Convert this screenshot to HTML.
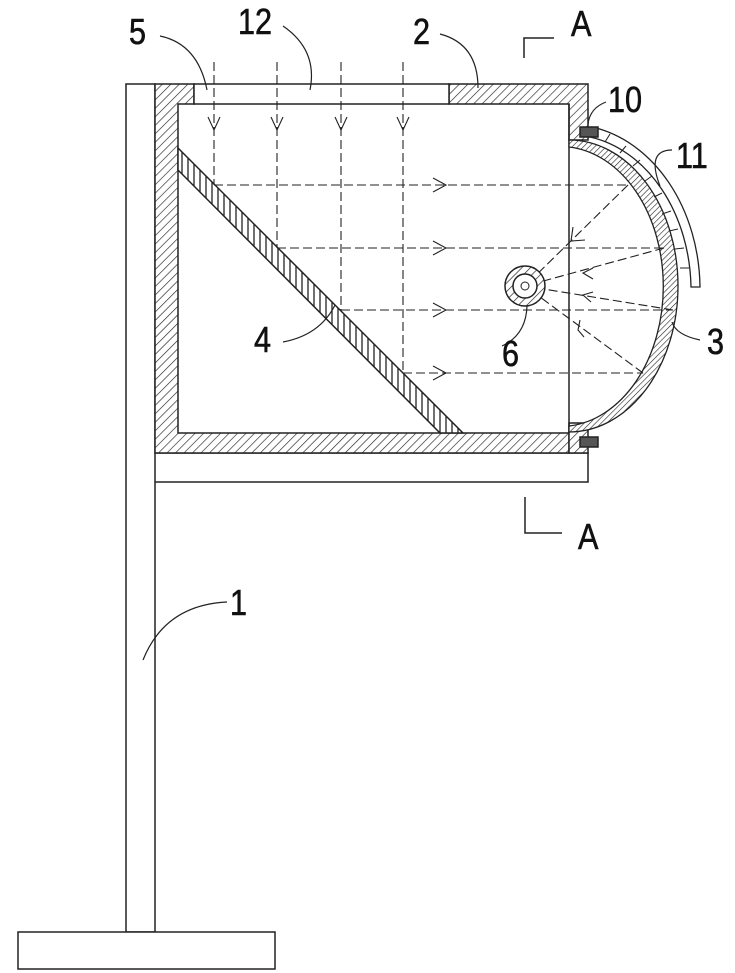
<!DOCTYPE html>
<html><head><meta charset="utf-8"><style>
html,body{margin:0;padding:0;background:#fff;}
svg{display:block;}
text{font-family:"Liberation Sans",sans-serif;font-size:36px;fill:#111;}
</style></head><body>
<svg width="735" height="973" viewBox="0 0 735 973" xmlns="http://www.w3.org/2000/svg">
<defs>
<pattern id="h" width="6" height="6" patternUnits="userSpaceOnUse" patternTransform="rotate(45)">
<rect width="6" height="6" fill="#fff"/><line x1="0" y1="0" x2="0" y2="6" stroke="#222" stroke-width="1.3"/></pattern>
<pattern id="h2" width="4" height="4" patternUnits="userSpaceOnUse" patternTransform="rotate(45)">
<rect width="4" height="4" fill="#fff"/><line x1="0" y1="0" x2="0" y2="4" stroke="#222" stroke-width="1.2"/></pattern>
<pattern id="v" width="6" height="6" patternUnits="userSpaceOnUse">
<rect width="6" height="6" fill="#fff"/><line x1="2" y1="0" x2="2" y2="6" stroke="#222" stroke-width="1.3"/></pattern>
</defs>
<g stroke="#222" stroke-width="1.5" fill="none">
<rect x="126" y="84" width="29" height="848" fill="#fff"/>
<rect x="18" y="932" width="257" height="37" fill="#fff"/>
<path d="M155,453 H588 V482 H155"/>
<path d="M155,84 H194 V104 H178 V433 H569 V453 H155 Z" fill="url(#h)"/>
<path d="M449,84 H588 V140 L569,140 V104 H449 Z" fill="url(#h)"/>
<path d="M569,423 L588,423 V453 H569 Z" fill="url(#h)"/>
<rect x="194" y="84" width="255" height="20" fill="#fff"/>
<line x1="569" y1="104" x2="569" y2="433"/>
<path d="M178,148 L463,433 L440,433 L178,170 Z" fill="url(#v)"/>
<path d="M569,140 A109,146 0 0 1 569,432 L569,426 A103,140 0 0 0 569,147 Z" fill="url(#h2)" stroke-width="1.3"/>
<path d="M592,127 A131,165 0 0 1 700,287 L691,287 A122,156 0 0 0 590,137 Z" fill="#fff" stroke-width="1.3"/>
<g stroke-width="1">
<line x1="610" y1="134" x2="605" y2="142"/><line x1="626" y1="146" x2="620" y2="153"/>
<line x1="640" y1="160" x2="633" y2="166"/><line x1="652" y1="176" x2="645" y2="181"/>
<line x1="662" y1="193" x2="654" y2="197"/><line x1="671" y1="211" x2="662" y2="214"/>
<line x1="678" y1="229" x2="669" y2="231"/><line x1="684" y1="248" x2="675" y2="249"/>
<line x1="689" y1="268" x2="680" y2="268"/>
</g>
<rect x="580" y="127" width="18" height="10" fill="#555"/>
<rect x="580" y="437" width="18" height="10" fill="#555"/>
<g stroke-dasharray="9,4" stroke-width="1.1">
<line x1="214" y1="62" x2="214" y2="185"/><line x1="277" y1="62" x2="277" y2="248"/>
<line x1="341" y1="62" x2="341" y2="310"/><line x1="403" y1="62" x2="403" y2="373"/>
<line x1="214" y1="185" x2="628" y2="185"/><line x1="277" y1="248" x2="664" y2="248"/>
<line x1="341" y1="310" x2="673" y2="310"/><line x1="403" y1="373" x2="643" y2="373"/>
<line x1="628" y1="185" x2="525" y2="286"/><line x1="664" y1="248" x2="525" y2="286"/>
<line x1="673" y1="310" x2="525" y2="286"/><line x1="643" y1="373" x2="525" y2="286"/>
</g>
<g stroke-width="1.1">
<path d="M208,117 L214,130 L220,117"/><path d="M271,117 L277,130 L283,117"/>
<path d="M335,117 L341,130 L347,117"/><path d="M397,117 L403,130 L409,117"/>
<path d="M433,178 L446,185 L433,192"/><path d="M433,241 L446,248 L433,255"/>
<path d="M433,303 L446,310 L433,317"/><path d="M433,366 L446,373 L433,380"/>
<path d="M573,227 L571,241 L585,240"/>
<path d="M593,268 L583,273 L593,279"/>
<path d="M593,292 L583,295 L591,302"/>
<path d="M580,320 L578,330 L584,337"/>
</g>
<circle cx="525" cy="286" r="20" fill="url(#h)"/>
<circle cx="525" cy="286" r="12" fill="#fff"/>
<circle cx="525" cy="286" r="4" fill="#fff" stroke-width="1"/>
<path d="M524,58 V38 H554"/>
<path d="M525,497 V533 H562"/>
<g stroke-width="1.2">
<path d="M160,36 Q198,44 207,90"/>
<path d="M283,26 Q318,50 310,90"/>
<path d="M440,34 Q478,44 478,88"/>
<path d="M606,102 Q590,108 588,124"/>
<path d="M672,150 Q646,150 660,186"/>
<path d="M700,340 Q676,335 672,322"/>
<path d="M502,346 Q526,335 527,306"/>
<path d="M283,342 Q320,335 335,305"/>
<path d="M227,602 Q165,605 143,660"/>
</g>
</g>
<g stroke="#111" stroke-width="0.6">
<text x="129" y="44" transform="translate(129 0) scale(0.85 1) translate(-129 0)">5</text>
<text x="238" y="34" transform="translate(238 0) scale(0.85 1) translate(-238 0)">12</text>
<text x="413" y="44" transform="translate(413 0) scale(0.85 1) translate(-413 0)">2</text>
<text x="571" y="36" transform="translate(571 0) scale(0.85 1) translate(-571 0)">A</text>
<text x="608" y="112" transform="translate(608 0) scale(0.85 1) translate(-608 0)">10</text>
<text x="676" y="168" transform="translate(676 0) scale(0.85 1) translate(-676 0)">11</text>
<text x="707" y="354" transform="translate(707 0) scale(0.85 1) translate(-707 0)">3</text>
<text x="502" y="366" transform="translate(502 0) scale(0.85 1) translate(-502 0)">6</text>
<text x="254" y="352" transform="translate(254 0) scale(0.85 1) translate(-254 0)">4</text>
<text x="230" y="615" transform="translate(230 0) scale(0.85 1) translate(-230 0)">1</text>
<text x="578" y="549" transform="translate(578 0) scale(0.85 1) translate(-578 0)">A</text>
</g>
</svg>
</body></html>
